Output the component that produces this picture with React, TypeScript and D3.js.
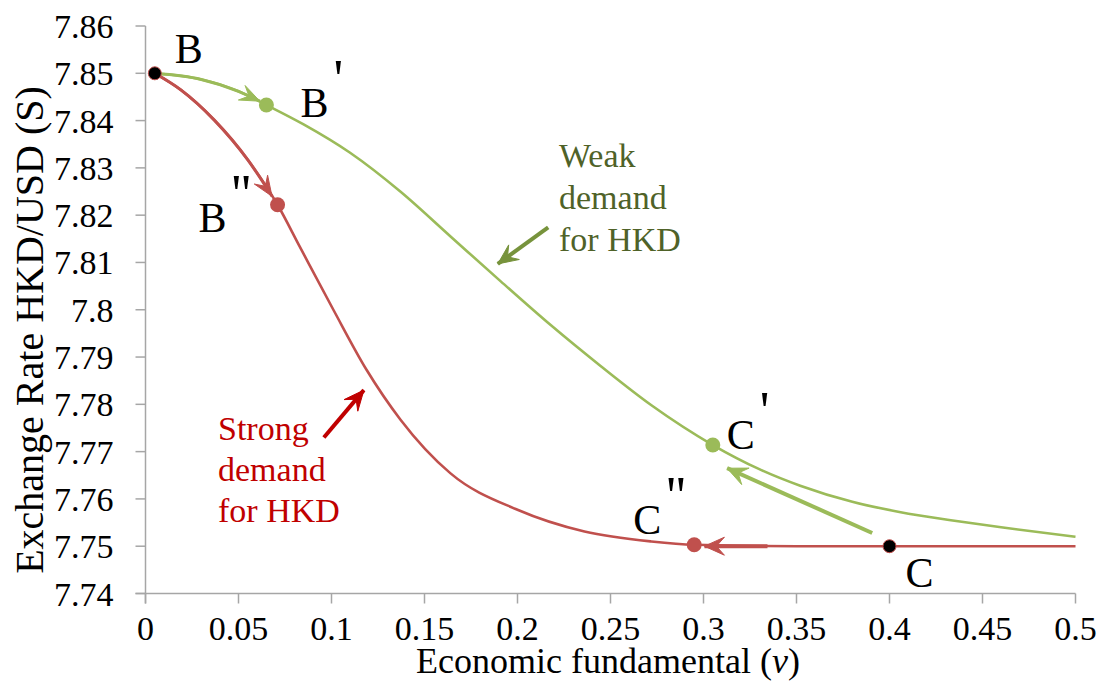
import React from "react";
import * as d3 from "d3";

// ---------- data ----------
const xTicks = [0, 0.05, 0.1, 0.15, 0.2, 0.25, 0.3, 0.35, 0.4, 0.45, 0.5];
const xTickLabels = ["0", "0.05", "0.1", "0.15", "0.2", "0.25", "0.3", "0.35", "0.4", "0.45", "0.5"];
const yTicks = [7.74, 7.75, 7.76, 7.77, 7.78, 7.79, 7.8, 7.81, 7.82, 7.83, 7.84, 7.85, 7.86];
const yTickLabels = ["7.74", "7.75", "7.76", "7.77", "7.78", "7.79", "7.8", "7.81", "7.82", "7.83", "7.84", "7.85", "7.86"];

// Weak demand for HKD (green)
const weakCurve: [number, number][] = [
  [0.005, 7.85], [0.03, 7.8487], [0.05, 7.8462], [0.065, 7.8433], [0.085, 7.8392],
  [0.11, 7.8332], [0.137, 7.825], [0.164, 7.8155], [0.191, 7.806], [0.218, 7.7967],
  [0.245, 7.788], [0.272, 7.7798], [0.305, 7.7714], [0.33, 7.7663], [0.352, 7.7628],
  [0.38, 7.7594], [0.406, 7.7572], [0.433, 7.7555], [0.46, 7.754], [0.5, 7.752],
];
// Strong demand for HKD (red)
const strongCurve: [number, number][] = [
  [0.005, 7.85], [0.019, 7.8465], [0.037, 7.8401], [0.055, 7.8317], [0.071, 7.8222],
  [0.083, 7.8133], [0.101, 7.8], [0.119, 7.7872], [0.137, 7.7768], [0.164, 7.7654],
  [0.2, 7.7577], [0.236, 7.7531], [0.272, 7.751], [0.295, 7.7503], [0.35, 7.75],
  [0.4, 7.75], [0.5, 7.75],
];

// Points
const pointB: [number, number] = [0.005, 7.85];
const pointBp: [number, number] = [0.065, 7.8433];
const pointBpp: [number, number] = [0.071, 7.8222];
const pointC: [number, number] = [0.4, 7.75];
const pointCp: [number, number] = [0.305, 7.7714];
const pointCpp: [number, number] = [0.295, 7.7503];

// Arrow paths (data units)
const arrowBtoBp: [number, number][] = [[0.005, 7.85], [0.03, 7.8487], [0.05, 7.8462], [0.0615, 7.8441]];
const arrowBtoBpp: [number, number][] = [[0.005, 7.85], [0.019, 7.8465], [0.037, 7.8401], [0.055, 7.8317], [0.068, 7.824]];
const arrowCtoCp: [number, number][] = [[0.3907, 7.7528], [0.3127, 7.7665]];
const arrowCtoCpp: [number, number][] = [[0.3344, 7.75], [0.3005, 7.75]];
const arrowWeak: [number, number][] = [[0.2165, 7.8174], [0.1894, 7.8097]];
const arrowStrong: [number, number][] = [[0.0959, 7.773], [0.1174, 7.783]];

// ---------- style ----------
const GREEN = "#9BBB59";
const RED = "#C0504D";
const DARKGREEN = "#77933C";
const TEXTGREEN = "#4F6228";
const DARKRED = "#C00000";
const AXIS = "#A6A6A6";
const SERIF = "Liberation Serif";
const CSS = "svg#hkdchart text, svg#hkdchart tspan { font-family: 'Liberation Serif' !important; }";

const x = d3.scaleLinear().domain([0, 0.5]).range([145.5, 1075.5]);
const y = d3.scaleLinear().domain([7.74, 7.86]).range([593.5, 26]);

const line = d3.line<[number, number]>().x(d => x(d[0])).y(d => y(d[1])).curve(d3.curveMonotoneX);
const straight = d3.line<[number, number]>().x(d => x(d[0])).y(d => y(d[1]));

function head(pts: [number, number][], L: number, Wd: number) {
  const n = pts.length;
  const tx = x(pts[n - 1][0]), ty = y(pts[n - 1][1]);
  const fx = x(pts[n - 2][0]), fy = y(pts[n - 2][1]);
  const a = Math.atan2(ty - fy, tx - fx);
  const c = Math.cos(a), s = Math.sin(a);
  const p = (u: number, v: number) => [tx + u * c - v * s, ty + u * s + v * c];
  const pts2 = [p(0, 0), p(-L, -Wd), p(-0.6 * L, 0), p(-L, Wd)];
  return "M" + pts2.map(q => q[0].toFixed(1) + "," + q[1].toFixed(1)).join("L") + "Z";
}

function Arrow({ pts, color, width, curved, L = 18, Wd = 8 }: { pts: [number, number][]; color: string; width: number; curved?: boolean; L?: number; Wd?: number }) {
  const d = (curved ? line : straight)(pts) || "";
  return (
    <g>
      <path d={d} fill="none" stroke={color} strokeWidth={width} strokeLinecap="butt" />
      <path d={head(pts, L, Wd)} fill={color} stroke={color} strokeWidth={1} strokeLinejoin="miter" />
    </g>
  );
}

const st = (size: number, fill = "#000") => ({ fontFamily: SERIF, fontSize: size, fill });

export default function App() {
  return (
    <svg id="hkdchart" width={1102} height={693} style={{ position: "absolute", left: 0, top: 0, fontFamily: SERIF }}>
      <style>{CSS}</style>
      {/* axes */}
      <g stroke={AXIS} strokeWidth={1.5}>
        <line x1={x(0)} x2={x(0)} y1={y(7.86)} y2={y(7.74) + 10} />
        <line x1={x(0) - 10} x2={x(0.5)} y1={y(7.74)} y2={y(7.74)} />
        {yTicks.map(t => (
          <line key={"yt" + t} x1={x(0) - 10} x2={x(0)} y1={y(t)} y2={y(t)} />
        ))}
        {xTicks.map(t => (
          <line key={"xt" + t} x1={x(t)} x2={x(t)} y1={y(7.74)} y2={y(7.74) + 10} />
        ))}
      </g>
      {yTicks.map((t, i) => (
        <text key={"yl" + t} x={x(0) - 32} y={y(t) + 12} textAnchor="end" style={st(34)}>{yTickLabels[i]}</text>
      ))}
      {xTicks.map((t, i) => (
        <text key={"xl" + t} x={x(t)} y={640} textAnchor="middle" style={st(34)}>{xTickLabels[i]}</text>
      ))}
      <text x={608} y={673} textAnchor="middle" style={st(36)}>
        Economic fundamental (<tspan style={{ fontStyle: "italic", fontFamily: SERIF }}>v</tspan>)
      </text>
      <text transform="translate(43,330) rotate(-90)" textAnchor="middle" style={st(40)}>
        Exchange Rate HKD/USD (S)
      </text>

      {/* curves */}
      <path d={line(weakCurve) || ""} fill="none" stroke={GREEN} strokeWidth={2.6} />
      <path d={line(strongCurve) || ""} fill="none" stroke={RED} strokeWidth={2.6} />

      {/* arrows */}
      <Arrow pts={arrowBtoBp} color={GREEN} width={3} curved L={20} Wd={8} />
      <Arrow pts={arrowBtoBpp} color={RED} width={3} curved L={20} Wd={8} />
      <Arrow pts={arrowCtoCp} color={GREEN} width={4} L={20} Wd={9} />
      <Arrow pts={arrowCtoCpp} color={RED} width={4} L={20} Wd={9} />
      <Arrow pts={arrowWeak} color={DARKGREEN} width={4} L={20} Wd={9} />
      <Arrow pts={arrowStrong} color={DARKRED} width={4} L={20} Wd={9} />

      {/* points */}
      <circle cx={x(pointBp[0])} cy={y(pointBp[1])} r={7.5} fill={GREEN} />
      <circle cx={x(pointCp[0])} cy={y(pointCp[1])} r={7.5} fill={GREEN} />
      <circle cx={x(pointBpp[0])} cy={y(pointBpp[1])} r={7.5} fill={RED} />
      <circle cx={x(pointCpp[0])} cy={y(pointCpp[1])} r={7.5} fill={RED} />
      <circle cx={x(pointB[0])} cy={y(pointB[1])} r={6.5} fill="#000" stroke={RED} strokeWidth={1} />
      <circle cx={x(pointC[0])} cy={y(pointC[1])} r={6.5} fill="#000" stroke={RED} strokeWidth={1} />

      {/* point labels */}
      <text x={x(pointB[0]) + 20} y={y(pointB[1]) - 10} style={st(42)}>B</text>
      <text x={x(pointBp[0]) + 34} y={y(pointBp[1]) + 12} style={st(42)}>B<tspan dx={5} dy={-20} style={{ fontSize: 54, fontFamily: SERIF }}>'</tspan></text>
      <text x={x(pointBpp[0]) - 79} y={y(pointBpp[1]) + 27} style={st(42)}>B<tspan dx={5} dy={-20} style={{ fontSize: 54, fontFamily: SERIF }}>''</tspan></text>
      <text x={x(pointCp[0]) + 14} y={y(pointCp[1]) + 4} style={st(42)}>C<tspan dx={5} dy={-20} style={{ fontSize: 54, fontFamily: SERIF }}>'</tspan></text>
      <text x={x(pointCpp[0]) - 61} y={y(pointCpp[1]) - 11} style={st(42)}>C<tspan dx={5} dy={-20} style={{ fontSize: 54, fontFamily: SERIF }}>''</tspan></text>
      <text x={x(pointC[0]) + 16} y={y(pointC[1]) + 41} style={st(42)}>C</text>

      {/* annotations */}
      <text x={559} y={167} style={st(34, TEXTGREEN)}>Weak</text>
      <text x={559} y={209} style={st(34, TEXTGREEN)}>demand</text>
      <text x={559} y={251} style={st(34, TEXTGREEN)}>for HKD</text>
      <text x={218} y={440} style={st(34, DARKRED)}>Strong</text>
      <text x={218} y={481} style={st(34, DARKRED)}>demand</text>
      <text x={218} y={522} style={st(34, DARKRED)}>for HKD</text>
    </svg>
  );
}
